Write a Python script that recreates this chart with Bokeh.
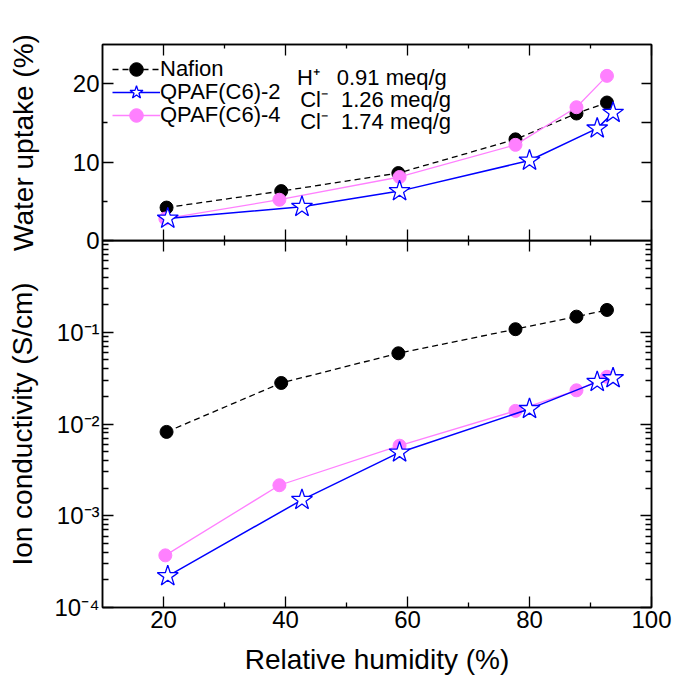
from bokeh.plotting import figure
from bokeh.models import (Range1d, FixedTicker, LinearAxis, LogAxis,
                          CustomJSTickFormatter, Legend, LegendItem, Label)
from bokeh.layouts import column
from bokeh.embed import file_html
from bokeh.resources import INLINE

FONT = "Liberation Sans"

# ---------------- data ----------------
series_names = ["Nafion", "QPAF(C6)-2", "QPAF(C6)-4"]
ion_labels = ["H\u207a", "Cl\u207b", "Cl\u207b"]
iec_labels = ["0.91 meq/g", "1.26 meq/g", "1.74 meq/g"]

rh_nafion = [20.5, 39.3, 58.5, 77.7, 87.7, 92.7]
wu_nafion = [4.2, 6.3, 8.6, 12.9, 16.2, 17.6]
sig_nafion = [0.0082, 0.028, 0.059, 0.108, 0.148, 0.175]

rh_c6_2 = [20.7, 42.7, 58.7, 80.0, 91.1, 93.7]
wu_c6_2 = [2.8, 4.3, 6.3, 10.2, 14.3, 16.3]
sig_c6_2 = [2.2e-4, 1.49e-3, 4.9e-3, 0.0146, 0.0288, 0.0316]

rh_c6_4 = [20.3, 39.0, 58.7, 77.7, 87.7, 92.7]
wu_c6_4 = [2.8, 5.2, 8.1, 12.2, 17.0, 21.0]
sig_c6_4 = [3.7e-4, 2.15e-3, 5.8e-3, 0.0139, 0.0233, 0.0327]

x_ticks = [20, 40, 60, 80, 100]
x_minor = [30, 50, 70, 90]
wu_ticks = [0, 10, 20]
wu_minor = [5, 15]
wu_right_ticks = [5, 10, 15, 20]
sig_decades = [1e-4, 1e-3, 1e-2, 1e-1]
sig_minor = [m * d for d in sig_decades for m in range(2, 10)]

OVERLAP = 18  # px of the top canvas that the bottom canvas overlays (transparent)

# ---------------- helpers ----------------
def make_axis(cls, ticker, labels=True, formatter=None, tick_in=11, minor_in=5):
    ax = cls(ticker=ticker)
    ax.major_tick_in = tick_in
    ax.major_tick_out = 0
    ax.minor_tick_in = minor_in
    ax.minor_tick_out = 0
    ax.axis_line_color = "black"
    ax.axis_line_width = 1.5
    ax.major_tick_line_color = "black"
    ax.major_tick_line_width = 1.3
    ax.minor_tick_line_color = "black"
    ax.minor_tick_line_width = 1.3
    ax.major_label_text_font = FONT
    ax.major_label_text_color = "black"
    ax.axis_label_text_font = FONT
    ax.axis_label_text_font_style = "normal"
    ax.axis_label_text_font_size = "28px"
    ax.axis_label_text_color = "black"
    if labels:
        ax.major_label_text_font_size = "24px"
        ax.major_label_standoff = 3
        if formatter is not None:
            ax.formatter = formatter
    else:
        ax.major_label_text_font_size = "0px"
        ax.major_label_standoff = 0
        ax.formatter = CustomJSTickFormatter(code="return '';")
    return ax

log_fmt = CustomJSTickFormatter(code="""
const e = Math.round(Math.log10(tick));
const sup = {"-":"\u207b","0":"\u2070","1":"\u00b9","2":"\u00b2","3":"\u00b3",
             "4":"\u2074","5":"\u2075","6":"\u2076","7":"\u2077","8":"\u2078","9":"\u2079"};
return "10" + String(e).split("").map(c => sup[c]).join("");
""")

x_range = Range1d(10, 100)

# ---------------- top panel: water uptake ----------------
p1 = figure(width=673, height=240 + OVERLAP, x_range=x_range, y_range=Range1d(0, 25),
            output_backend="svg", toolbar_location=None,
            x_axis_location=None, y_axis_location=None,
            min_border_left=102, min_border_right=22,
            min_border_top=44, min_border_bottom=OVERLAP)
p1.grid.visible = False
p1.outline_line_color = "black"
p1.outline_line_width = 1.5
p1.background_fill_color = "white"
p1.border_fill_color = "white"

ax = make_axis(LinearAxis, FixedTicker(ticks=wu_ticks, minor_ticks=wu_minor))
ax.axis_label = "Water uptake (%)"
ax.axis_label_standoff = 31
p1.add_layout(ax, "left")
p1.add_layout(make_axis(LinearAxis, FixedTicker(ticks=wu_right_ticks, minor_ticks=[]),
                        labels=False, tick_in=10), "right")
p1.add_layout(make_axis(LinearAxis, FixedTicker(ticks=x_ticks, minor_ticks=x_minor),
                        labels=False), "below")
p1.add_layout(make_axis(LinearAxis, FixedTicker(ticks=x_ticks, minor_ticks=x_minor),
                        labels=False, minor_in=4), "above")

n_l = p1.line(rh_nafion, wu_nafion, line_color="black", line_width=1.3, line_dash="6 4")
n_s = p1.scatter(rh_nafion, wu_nafion, marker="circle", size=13,
                 fill_color="black", line_color="black")
c4_l = p1.line(rh_c6_4, wu_c6_4, line_color="#FF80FF", line_width=1.3)
c4_s = p1.scatter(rh_c6_4, wu_c6_4, marker="circle", size=13,
                  fill_color="#FF80FF", line_color="#FF80FF")
c2_l = p1.line(rh_c6_2, wu_c6_2, line_color="#0000FF", line_width=1.5)
c2_s = p1.scatter(rh_c6_2, wu_c6_2, marker="star", size=22,
                  fill_color="white", line_color="#0000FF", line_width=1.3)

# one single-row legend per series, so that the row pitch can be tight
legend_rows = [([n_l, n_s], 154), ([c2_l, c2_s], 131), ([c4_l, c4_s], 108)]
for (rends, vy), name in zip(legend_rows, series_names):
    lg = Legend(items=[LegendItem(label=name, renderers=rends)], location=(10, vy))
    lg.border_line_color = None
    lg.background_fill_alpha = 0
    lg.padding = 0
    lg.margin = 0
    lg.spacing = 0
    lg.glyph_width = 48
    lg.glyph_height = 34
    lg.label_height = 22
    lg.label_standoff = 0
    lg.label_text_font = FONT
    lg.label_text_font_size = "22px"
    lg.label_text_color = "black"
    p1.add_layout(lg)

row_y = [20.84, 18.0, 15.12]
ion_x = [41.9, 42.4, 42.4]
iec_x = [48.4, 49.1, 49.1]
for i in range(3):
    p1.add_layout(Label(x=ion_x[i], y=row_y[i], text=ion_labels[i],
                        text_font=FONT, text_font_size="22px", text_color="black",
                        text_baseline="alphabetic"))
    p1.add_layout(Label(x=iec_x[i], y=row_y[i], text=iec_labels[i],
                        text_font=FONT, text_font_size="22px", text_color="black",
                        text_baseline="alphabetic"))

# ---------------- bottom panel: ion conductivity ----------------
p2 = figure(width=673, height=437, x_range=x_range, y_range=Range1d(1e-4, 1),
            y_axis_type="log",
            output_backend="svg", toolbar_location=None,
            x_axis_location=None, y_axis_location=None,
            min_border_left=102, min_border_right=22,
            min_border_top=0, min_border_bottom=70)
p2.grid.visible = False
p2.outline_line_color = "black"
p2.outline_line_width = 1.5
p2.background_fill_color = None
p2.border_fill_color = None
p2.styles = {"margin-top": f"-{OVERLAP}px"}

ax = make_axis(LogAxis, FixedTicker(ticks=sig_decades, minor_ticks=sig_minor),
               formatter=log_fmt, minor_in=6)
ax.axis_label = "Ion conductivity (S/cm)"
ax.axis_label_standoff = 13
p2.add_layout(ax, "left")
p2.add_layout(make_axis(LogAxis, FixedTicker(ticks=sig_decades, minor_ticks=sig_minor),
                        labels=False, minor_in=6), "right")
axb = make_axis(LinearAxis, FixedTicker(ticks=x_ticks, minor_ticks=x_minor))
axb.axis_label = "Relative humidity (%)"
axb.axis_label_standoff = 13
p2.add_layout(axb, "below")
p2.add_layout(make_axis(LinearAxis, FixedTicker(ticks=x_ticks, minor_ticks=x_minor),
                        labels=False), "above")

p2.line(rh_nafion, sig_nafion, line_color="black", line_width=1.3, line_dash="6 4")
p2.scatter(rh_nafion, sig_nafion, marker="circle", size=13,
           fill_color="black", line_color="black")
p2.line(rh_c6_4, sig_c6_4, line_color="#FF80FF", line_width=1.3)
p2.scatter(rh_c6_4, sig_c6_4, marker="circle", size=13,
           fill_color="#FF80FF", line_color="#FF80FF")
p2.line(rh_c6_2, sig_c6_2, line_color="#0000FF", line_width=1.5)
p2.scatter(rh_c6_2, sig_c6_2, marker="star", size=22,
           fill_color="white", line_color="#0000FF", line_width=1.3)

layout = column(p1, p2, spacing=0)

open("out.html", "w", encoding="utf-8").write(file_html(layout, INLINE))
